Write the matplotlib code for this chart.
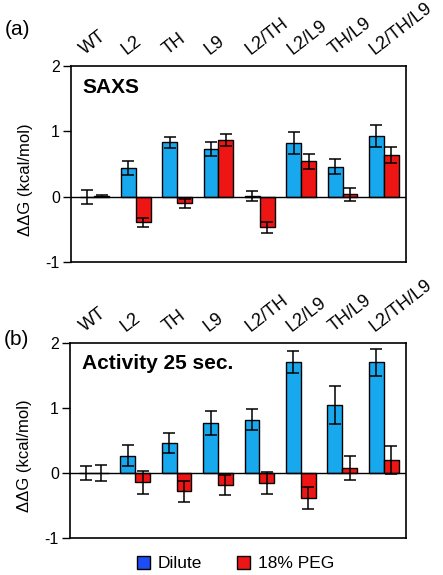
"""Two-panel grouped bar chart of ddG values (SAXS and activity)."""

import matplotlib
matplotlib.use("Agg")
import matplotlib.pyplot as plt
from matplotlib.patches import Patch
import numpy as np

plt.rcParams["font.family"] = ["Liberation Sans", "DejaVu Sans"]

CATEGORIES = ["WT", "L2", "TH", "L9", "L2/TH", "L2/L9", "TH/L9", "L2/TH/L9"]

SAXS_DILUTE = [0.00, 0.44, 0.83, 0.73, 0.01, 0.82, 0.46, 0.93]
SAXS_DILUTE_ERR = [0.11, 0.11, 0.09, 0.10, 0.08, 0.17, 0.12, 0.17]
SAXS_PEG = [0.01, -0.39, -0.10, 0.87, -0.47, 0.54, 0.04, 0.64]
SAXS_PEG_ERR = [0.02, 0.07, 0.07, 0.09, 0.09, 0.12, 0.10, 0.12]

ACT_DILUTE = [0.00, 0.27, 0.46, 0.77, 0.82, 1.71, 1.04, 1.70]
ACT_DILUTE_ERR = [0.11, 0.16, 0.15, 0.18, 0.16, 0.17, 0.29, 0.21]
ACT_PEG = [0.00, -0.14, -0.28, -0.18, -0.15, -0.38, 0.08, 0.20]
ACT_PEG_ERR = [0.12, 0.18, 0.16, 0.15, 0.17, 0.17, 0.18, 0.22]

BLUE = "#17a8ee"
RED = "#ee1515"
LEGEND_BLUE = "#1e4cf5"


def draw_panel(ax, dilute, dilute_err, peg, peg_err, title, tag, tag_y):
    x = np.arange(len(CATEGORIES))
    w = 0.36
    err_kw = dict(ecolor="black", elinewidth=1.1, capsize=4, capthick=1.1)
    ax.bar(x - w / 2, dilute, w, yerr=dilute_err, color=BLUE,
           edgecolor="black", linewidth=1.0, error_kw=err_kw)
    ax.bar(x + w / 2, peg, w, yerr=peg_err, color=RED,
           edgecolor="black", linewidth=1.0, error_kw=err_kw)
    ax.axhline(0, color="black", linewidth=1.0)
    ax.set_xlim(-0.57, 7.53)
    ax.set_ylim(-1, 2)
    ax.set_yticks([-1, 0, 1, 2])
    ax.set_yticklabels(["-1", "0", "1", "2"])
    ax.set_xticks([])
    ax.tick_params(axis="y", direction="out", length=6, width=1.0,
                   labelsize=11.5, pad=2)
    for s in ax.spines.values():
        s.set_linewidth(1.2)
    ax.set_ylabel("ΔΔG (kcal/mol)", fontsize=12)
    ax.yaxis.set_label_coords(-0.113, 0.42)
    ax.text(0.035, 0.94, title, transform=ax.transAxes, fontsize=15,
            fontweight="bold", va="top", ha="left")
    for i, name in enumerate(CATEGORIES):
        ax.text(i - 0.22, 2.17, name, rotation=38, rotation_mode="anchor",
                ha="left", va="baseline", fontsize=13, clip_on=False)
    ax.text(-0.197, tag_y, tag, transform=ax.transAxes, fontsize=15,
            ha="left", va="center")


fig = plt.figure(figsize=(4.43, 5.75), dpi=100)
ax_a = fig.add_axes([0.160, 0.5443, 0.756, 0.3409])
ax_b = fig.add_axes([0.158, 0.0638, 0.758, 0.3402])

draw_panel(ax_a, SAXS_DILUTE, SAXS_DILUTE_ERR, SAXS_PEG, SAXS_PEG_ERR,
           "SAXS", "(a)", 1.184)
draw_panel(ax_b, ACT_DILUTE, ACT_DILUTE_ERR, ACT_PEG, ACT_PEG_ERR,
           "Activity 25 sec.", "(b)", 1.014)

handles = [Patch(facecolor=LEGEND_BLUE, edgecolor="black", label="Dilute"),
           Patch(facecolor=RED, edgecolor="black", label="18% PEG")]
fig.legend(handles=handles, loc="center", bbox_to_anchor=(0.532, 0.02), ncol=2,
           frameon=False, fontsize=12.5, handlelength=0.75, handleheight=0.75,
           columnspacing=2.0, handletextpad=0.45)

fig.savefig("out.png", dpi=100)
